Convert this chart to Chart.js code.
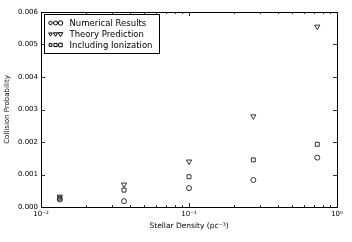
<!DOCTYPE html>
<html lang="en">
<head>
<meta charset="UTF-8">
<title>Collision Probability</title>
<script src="https://cdn.jsdelivr.net/npm/chart.js"></script>
<style>
  html, body { margin: 0; padding: 0; background: white; }
  #wrap { width: 352px; height: 242px; }
</style>
</head>
<body>
<div id="wrap"><canvas id="chart" width="352" height="242"></canvas></div>
<script>
// stellar density (pc^-3)
const density = [0.0134, 0.0364, 0.1, 0.272, 0.736];
const numerical = [0.00023, 0.00018, 0.00058, 0.00083, 0.00152];
const theory = [0.00032, 0.00069, 0.0014, 0.00279, 0.00555];
const ionization = [0.00027, 0.00052, 0.00093, 0.00145, 0.00193];
const xTicks = [0.01, 0.1, 1];
const xTickLabels = ['10\u207B\u00B2', '10\u207B\u00B9', '10\u2070'];

const FONT = 'DejaVu Sans';

function pts(ys) {
  return density.map((x, i) => ({ x: x, y: ys[i] }));
}

const series = [
  { label: 'Numerical Results', data: numerical, style: 'circle', rot: 0, r: 2.5 },
  { label: 'Theory Prediction', data: theory, style: 'triangle', rot: 180, r: 3 },
  { label: 'Including Ionization', data: ionization, style: 'rect', rot: 0, r: 2.8 }
];

// ticks pointing inwards on all four sides, like matplotlib
const innerTicks = {
  id: 'innerTicks',
  afterDraw(chart) {
    const ctx = chart.ctx, a = chart.chartArea;
    const xs = chart.scales.x, ys = chart.scales.y;
    ctx.save();
    ctx.strokeStyle = '#000';
    ctx.lineWidth = 0.8;
    ctx.beginPath();
    for (let d = 0.01; d < 1.01; d *= 10) {
      for (let m = 1; m < 10; m++) {
        const v = d * m;
        if (v > 1.0001) break;
        const px = Math.round(xs.getPixelForValue(v)) + 0.5;
        const len = m === 1 ? 4 : 2;
        ctx.moveTo(px, a.bottom); ctx.lineTo(px, a.bottom - len);
        ctx.moveTo(px, a.top); ctx.lineTo(px, a.top + len);
      }
    }
    ys.ticks.forEach(t => {
      const py = Math.round(ys.getPixelForValue(t.value)) + 0.5;
      ctx.moveTo(a.left, py); ctx.lineTo(a.left + 4, py);
      ctx.moveTo(a.right, py); ctx.lineTo(a.right - 4, py);
    });
    ctx.stroke();
    ctx.lineWidth = 1;
    ctx.strokeRect(Math.round(a.left) + 0.5, Math.round(a.top) + 0.5,
      Math.round(a.right - a.left), Math.round(a.bottom - a.top));
    ctx.restore();
  }
};

// legend box with three markers per entry (growing sizes, as matplotlib does)
const boxLegend = {
  id: 'boxLegend',
  afterDraw(chart) {
    const ctx = chart.ctx, a = chart.chartArea;
    const x0 = a.left + 3.5, y0 = a.top + 2.5;
    ctx.save();
    ctx.fillStyle = '#fff';
    ctx.strokeStyle = '#000';
    ctx.lineWidth = 1;
    ctx.fillRect(x0, y0, 115, 39);
    ctx.strokeRect(x0, y0, 115, 39);
    ctx.font = '8.5px "' + FONT + '"';
    ctx.textBaseline = 'middle';
    series.forEach((s, i) => {
      const cy = y0 + 8.5 + i * 11;
      [[6, 0.7], [11, 0.8], [16, 0.9]].forEach(([dx, k]) => {
        ctx.fillStyle = 'rgba(0,0,0,0)';
        Chart.helpers.drawPoint(ctx, {
          pointStyle: s.style, rotation: s.rot, radius: s.r * k,
          borderWidth: 0.7
        }, x0 + dx, cy);
      });
      ctx.fillStyle = '#000';
      ctx.fillText(s.label, x0 + 25, cy + 0.5);
    });
    ctx.restore();
  }
};

new Chart(document.getElementById('chart'), {
  type: 'scatter',
  data: {
    datasets: series.map(s => ({
      label: s.label,
      data: pts(s.data),
      pointStyle: s.style,
      rotation: s.rot,
      pointRadius: s.r,
      pointBorderWidth: 0.8,
      borderColor: '#000',
      backgroundColor: 'rgba(0,0,0,0)'
    }))
  },
  options: {
    responsive: false,
    animation: false,
    devicePixelRatio: 1,
    layout: { padding: { left: 0, right: 15, top: 12, bottom: 0 } },
    plugins: {
      legend: { display: false },
      tooltip: { enabled: false }
    },
    scales: {
      x: {
        type: 'logarithmic',
        min: 0.01,
        max: 1,
        afterBuildTicks(scale) {
          scale.ticks = xTicks.map(v => ({ value: v }));
        },
        afterFit(scale) { scale.height = 35; },
        grid: { display: false, drawTicks: false },
        border: { display: false },
        ticks: {
          color: '#000',
          font: { family: FONT, size: 7 },
          padding: 3,
          maxRotation: 0,
          callback: (v) => {
            const i = xTicks.findIndex(t => Math.abs(t - v) < 1e-9);
            return i >= 0 ? xTickLabels[i] : '';
          }
        },
        title: {
          display: true,
          text: 'Stellar Density (pc\u207B\u00B3)',
          color: '#000',
          font: { family: FONT, size: 7.5 },
          padding: { top: 2, bottom: 11 }
        }
      },
      y: {
        min: 0,
        max: 0.006,
        afterFit(scale) { scale.width = 41; },
        grid: { display: false, drawTicks: false },
        border: { display: false },
        ticks: {
          stepSize: 0.001,
          color: '#000',
          font: { family: FONT, size: 7 },
          padding: 3,
          callback: (v) => v.toFixed(3)
        },
        title: {
          display: true,
          text: 'Collision Probability',
          color: '#000',
          font: { family: FONT, size: 7 },
          padding: { top: 3, bottom: 2 }
        }
      }
    }
  },
  plugins: [innerTicks, boxLegend]
});
</script>
</body>
</html>
